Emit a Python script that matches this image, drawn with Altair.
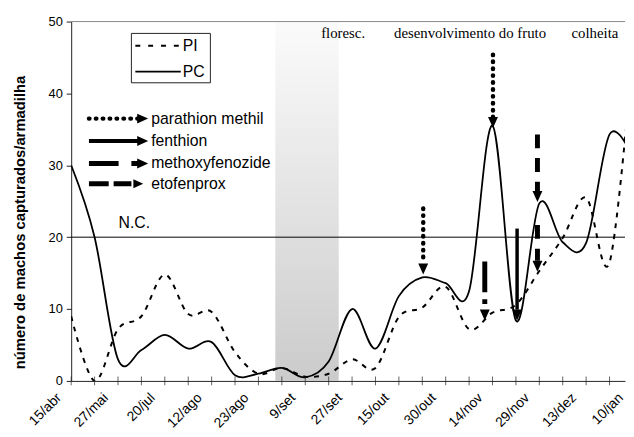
import altair as alt
import pandas as pd

# ---------------- data ----------------
dates = ["15/abr", "27/mai", "20/jul", "12/ago", "23/ago", "9/set", "27/set",
         "15/out", "30/out", "14/nov", "29/nov", "13/dez", "10/jan"]
date_pos = [0, 2, 4, 6, 8, 10, 12, 14, 16, 18, 20, 22, 24]
sample_idx = list(range(25))
pc = [30, 20, 3, 4.3, 6.4, 4.5, 5.4, 0.8, 1.0, 1.8, 0.5, 2.7, 10, 4.5, 11.8,
      14.4, 13.6, 12.5, 35.5, 8.4, 24.7, 19.3, 19.2, 34.3, 31]
pi = [9, 0, 7.2, 9.0, 14.8, 9.3, 9.6, 4.0, 1.0, 1.8, 0.6, 1.0, 3.0, 1.8, 8.9,
      10.2, 13.1, 7.2, 9.5, 10.6, 15.3, 19.9, 25.5, 16.5, 46]
nc_level = 20
bloom = [8.72, 11.43]
arrow_x = [15.04, 18.02, 17.67, 19.05, 19.92, 19.92]
arrow_top = [24.0, 45.4, 16.6, 21.2, 34.3, 21.7]
arrow_tip = [14.8, 35.2, 8.4, 8.4, 24.9, 15.2]
arrow_kind = ["parathion methil", "parathion methil", "methoxyfenozide",
              "fenthion", "etofenprox", "etofenprox"]
treatments = ["parathion methil", "fenthion", "methoxyfenozide", "etofenprox"]
phases = ["floresc.", "desenvolvimento do fruto", "colheita"]

# ---------------- layout ----------------
W, H = 561, 364
STEP = 23.71
XMAX = W / STEP
YMAX = 50
HEAD_U = 11 / (H / YMAX)
FONT = "Liberation Sans"
SERIF = "Liberation Serif"
DOWN_HEAD = "M-0.9,-2L0.9,-2L0,0Z"
RIGHT_HEAD = "M-2,-0.9L-2,0.9L0,0Z"

xs = alt.Scale(domain=[0, XMAX], nice=False, zero=False)
ys = alt.Scale(domain=[0, YMAX], nice=False)

STYLE = {
    "parathion methil": dict(strokeDash=[0.5, 6.5], strokeWidth=4.5, strokeCap="round"),
    "fenthion": dict(strokeWidth=3.5),
    "methoxyfenozide": dict(strokeDash=[31, 7, 5, 20], strokeWidth=5),
    "etofenprox": dict(strokeDash=[14, 10], strokeWidth=5),
}

one = pd.DataFrame({"k": [0]})

yaxis = alt.Axis(values=list(range(0, 51, 5)), tickSize=5, labelFontSize=13,
                 labelFont=FONT, labelColor="black", labelPadding=4,
                 domainColor="#222", tickColor="#222", grid=False,
                 title="número de machos capturados/armadilha",
                 titleFont=FONT, titleFontSize=15, titleFontWeight="bold",
                 titleColor="black", titleX=-44, titleY=203, titleAngle=270,
                 titleBaseline="bottom", titleAlign="center")
xaxis = alt.Axis(labels=False, ticks=False, domain=True, domainColor="#222",
                 title=None, grid=False)

layers = []

# bloom band with gradient
band_df = pd.DataFrame({"x1": [bloom[0]], "x2": [bloom[1]], "y1": [0], "y2": [YMAX]})
layers.append(
    alt.Chart(band_df).mark_rect(
        fill=alt.Gradient(gradient="linear",
                          stops=[alt.GradientStop(color="#fbfbfb", offset=0),
                                 alt.GradientStop(color="#cbcbcb", offset=1)],
                          x1=0, x2=0, y1=0, y2=1)
    ).encode(x=alt.X("x1:Q", scale=xs, axis=xaxis), x2="x2",
             y=alt.Y("y1:Q", scale=ys, axis=yaxis), y2="y2")
)

# top frame line
layers.append(alt.Chart(pd.DataFrame({"v": [YMAX]})).mark_rule(color="#888", strokeWidth=1)
              .encode(y=alt.Y("v:Q", scale=ys)))
# N.C. line
layers.append(alt.Chart(pd.DataFrame({"v": [nc_level]})).mark_rule(color="black", strokeWidth=1)
              .encode(y=alt.Y("v:Q", scale=ys)))

# series
pc_df = pd.DataFrame({"i": sample_idx, "v": pc})
pi_df = pd.DataFrame({"i": sample_idx, "v": pi})
layers.append(alt.Chart(pi_df).mark_line(color="black", strokeWidth=2, strokeDash=[5, 6],
                                         interpolate="cardinal", tension=0, clip=True)
              .encode(x=alt.X("i:Q", scale=xs), y=alt.Y("v:Q", scale=ys)))
layers.append(alt.Chart(pc_df).mark_line(color="black", strokeWidth=1.8,
                                         interpolate="cardinal", tension=0, clip=True)
              .encode(x=alt.X("i:Q", scale=xs), y=alt.Y("v:Q", scale=ys)))

# arrows in plot
adf = pd.DataFrame({"x": arrow_x, "top": arrow_top, "tip": arrow_tip, "kind": arrow_kind})
adf["base"] = adf["tip"] + HEAD_U
for kind, sty in STYLE.items():
    sub = adf[adf["kind"] == kind]
    layers.append(alt.Chart(sub).mark_rule(color="black", **sty)
                  .encode(x=alt.X("x:Q", scale=xs), y=alt.Y("top:Q", scale=ys), y2="base"))
layers.append(alt.Chart(adf).mark_point(shape=DOWN_HEAD, filled=True, size=124,
                                        color="black", opacity=1)
              .encode(x=alt.X("x:Q", scale=xs), y=alt.Y("tip:Q", scale=ys)))

# x ticks crossing axis
tick_df = pd.DataFrame({"i": list(range(0, 24)), "z": [0] * 24})
layers.append(alt.Chart(tick_df).mark_tick(orient="vertical", size=9, thickness=1, color="#222")
              .encode(x=alt.X("i:Q", scale=xs), y=alt.Y("z:Q", scale=ys)))

# x labels
lab_df = pd.DataFrame({"i": date_pos, "lab": dates})
layers.append(alt.Chart(lab_df).mark_text(angle=315, align="right", baseline="middle",
                                          font=FONT, fontSize=14, color="black", xOffset=-12)
              .encode(x=alt.X("i:Q", scale=xs), y=alt.value(H + 15), text="lab:N"))

# phase labels
for name, px in zip(phases, [275.5, 404, 530.5]):
    layers.append(alt.Chart(one).mark_text(font=SERIF, fontSize=15, color="black",
                                           align="center", baseline="middle")
                  .encode(x=alt.value(px), y=alt.value(12), text=alt.value(name)))

# N.C.
layers.append(alt.Chart(one).mark_text(font=FONT, fontSize=16, color="black",
                                       align="left", baseline="middle")
              .encode(x=alt.value(48), y=alt.value(204), text=alt.value("N.C.")))

# legend box PI/PC
layers.append(alt.Chart(one).mark_rect(fill="white", stroke="#222", strokeWidth=1)
              .encode(x=alt.value(61), x2=alt.value(141), y=alt.value(12), y2=alt.value(62)))
layers.append(alt.Chart(one).mark_rule(color="black", strokeWidth=2.2, strokeDash=[5, 8])
              .encode(x=alt.value(65), x2=alt.value(111), y=alt.value(24.5)))
layers.append(alt.Chart(one).mark_rule(color="black", strokeWidth=1.8)
              .encode(x=alt.value(65), x2=alt.value(111), y=alt.value(50.7)))
for name, py in [("PI", 24.5), ("PC", 50.7)]:
    layers.append(alt.Chart(one).mark_text(font=FONT, fontSize=16, color="black",
                                           align="left", baseline="middle")
                  .encode(x=alt.value(113), y=alt.value(py), text=alt.value(name)))

# treatment legend
leg_y = [98.3, 121, 143.7, 164.3]
leg_style = {
    "parathion methil": dict(strokeDash=[0.5, 6.5], strokeWidth=4.5, strokeCap="round"),
    "fenthion": dict(strokeWidth=4),
    "methoxyfenozide": dict(strokeDash=[30, 13, 7, 10], strokeWidth=5),
    "etofenprox": dict(strokeDash=[20, 5, 18, 10], strokeWidth=5),
}
for name, py in zip(treatments, leg_y):
    end = 64 if name == "etofenprox" else 69
    tip = 73 if name == "etofenprox" else 78
    hs = 100 if name == "etofenprox" else 124
    layers.append(alt.Chart(one).mark_rule(color="black", **leg_style[name])
                  .encode(x=alt.value(18), x2=alt.value(end), y=alt.value(py)))
    layers.append(alt.Chart(one).mark_point(shape=RIGHT_HEAD, filled=True, size=hs,
                                            color="black", opacity=1)
                  .encode(x=alt.value(tip), y=alt.value(py)))
    layers.append(alt.Chart(one).mark_text(font=FONT, fontSize=16, color="black",
                                           align="left", baseline="middle")
                  .encode(x=alt.value(81), y=alt.value(py), text=alt.value(name)))

chart = alt.layer(*layers).properties(
    width=W, height=H,
    autosize=alt.AutoSizeParams(type="none"),
    padding={"left": 64, "top": 11, "right": 1, "bottom": 50},
    background="white",
).configure_view(stroke=None)

chart.save("out.html", embed_options={"renderer": "svg", "actions": False})
